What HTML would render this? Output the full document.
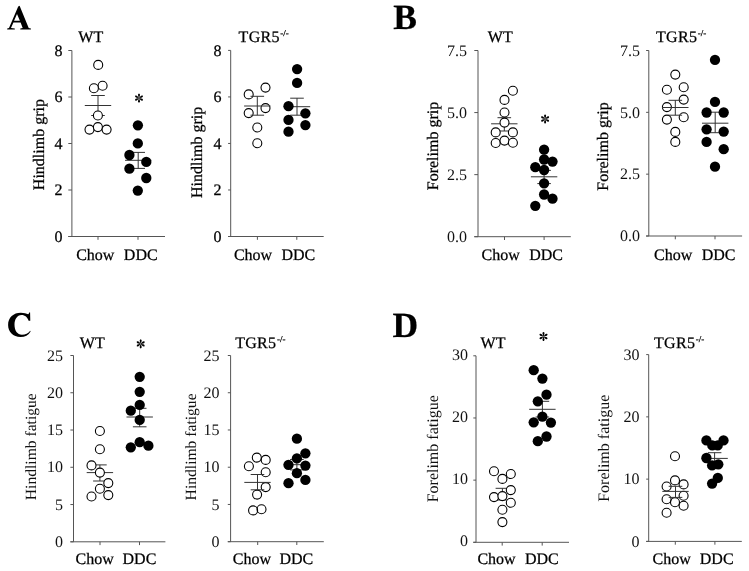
<!DOCTYPE html>
<html><head><meta charset="utf-8"><style>
html,body{margin:0;padding:0;background:#fff;}
body{width:749px;height:571px;overflow:hidden;}
svg{display:block;will-change:transform;filter:blur(0.3px);}
text{font-family:"Liberation Serif",serif;fill:#000;stroke:#000;stroke-width:0.25px;text-rendering:geometricPrecision;}
text.lt{stroke:none;fill:#111;}
</style></head><body>
<svg width="749" height="571" viewBox="0 0 749 571">
<rect width="749" height="571" fill="#fff"/>
<g><path d="M71.9 50.5V236.5M68.3 236.5H165M68.3 236.5H71.9M68.3 190H71.9M68.3 143.5H71.9M68.3 97H71.9M68.3 50.5H71.9M98 236.5V239.8M138 236.5V239.8" stroke="#555" stroke-width="1.0" fill="none"/><text x="62.5" y="241.7" font-size="16" text-anchor="end">0</text><text x="62.5" y="195.2" font-size="16" text-anchor="end">2</text><text x="62.5" y="148.7" font-size="16" text-anchor="end">4</text><text x="62.5" y="102.2" font-size="16" text-anchor="end">6</text><text x="62.5" y="55.7" font-size="16" text-anchor="end">8</text><text x="95.25" y="259.5" font-size="16" text-anchor="middle">Chow</text><text x="140.75" y="259.5" font-size="16" text-anchor="middle">DDC</text><text x="78.3" y="42.2" font-size="16">WT</text><text transform="translate(43.6,144.6) rotate(-90)" x="0" y="0" font-size="16" text-anchor="middle">Hindlimb grip</text><g transform="translate(139,98.1)"><path d="M0.3 -0.2L2.3 -0.85A1.45 1 0 1 1 2.3 0.85L0.3 0.2Z" transform="rotate(-90)"/><path d="M0.3 -0.2L2.3 -0.85A1.45 1 0 1 1 2.3 0.85L0.3 0.2Z" transform="rotate(-30)"/><path d="M0.3 -0.2L2.3 -0.85A1.45 1 0 1 1 2.3 0.85L0.3 0.2Z" transform="rotate(30)"/><path d="M0.3 -0.2L2.3 -0.85A1.45 1 0 1 1 2.3 0.85L0.3 0.2Z" transform="rotate(90)"/><path d="M0.3 -0.2L2.3 -0.85A1.45 1 0 1 1 2.3 0.85L0.3 0.2Z" transform="rotate(150)"/><path d="M0.3 -0.2L2.3 -0.85A1.45 1 0 1 1 2.3 0.85L0.3 0.2Z" transform="rotate(210)"/></g><path d="M84.8 105.5H111.2M91.2 95.5H104.8M91.2 115.5H104.8M98 95.5V115.5" stroke="#333" stroke-width="1.0" fill="none"/><g fill="#fff" stroke="#000" stroke-width="1.1"><circle cx="98.2" cy="64.9" r="4.5"/><circle cx="102.6" cy="85.8" r="4.5"/><circle cx="93.9" cy="88.3" r="4.5"/><circle cx="97.9" cy="115.5" r="4.5"/><circle cx="89.5" cy="129.6" r="4.5"/><circle cx="97.9" cy="127.1" r="4.5"/><circle cx="106.6" cy="129.6" r="4.5"/></g><path d="M125 160.3H151.4M131.4 152.4H145M131.4 168.4H145M138.2 152.4V168.4" stroke="#333" stroke-width="1.0" fill="none"/><g fill="#000"><circle cx="137.9" cy="125.3" r="5.15"/><circle cx="137.8" cy="143.4" r="5.15"/><circle cx="129.4" cy="155" r="5.15"/><circle cx="146.3" cy="161.9" r="5.15"/><circle cx="129.4" cy="168.7" r="5.15"/><circle cx="146.3" cy="178" r="5.15"/><circle cx="137.8" cy="190.6" r="5.15"/></g></g>
<g><path d="M230.7 50.4V236.5M228.1 236.5H323.7M228.1 236.5H230.7M228.1 189.97H230.7M228.1 143.45H230.7M228.1 96.93H230.7M228.1 50.4H230.7M257.4 236.5V239.8M296.8 236.5V239.8" stroke="#555" stroke-width="1.0" fill="none"/><text x="221.5" y="241.7" font-size="16" text-anchor="end">0</text><text x="221.5" y="195.17" font-size="16" text-anchor="end">2</text><text x="221.5" y="148.65" font-size="16" text-anchor="end">4</text><text x="221.5" y="102.13" font-size="16" text-anchor="end">6</text><text x="221.5" y="55.6" font-size="16" text-anchor="end">8</text><text x="253.05" y="259.5" font-size="16" text-anchor="middle">Chow</text><text x="298.4" y="259.5" font-size="16" text-anchor="middle">DDC</text><text x="238.6" y="42.1" font-size="16" letter-spacing="0.3">TGR5<tspan font-size="9" dx="0.5" dy="-6.1" letter-spacing="0">-/-</tspan></text><text transform="translate(202.4,152.4) rotate(-90)" x="0" y="0" font-size="16" text-anchor="middle">Hindlimb grip</text><g fill="none" stroke="#000" stroke-width="1.1"><circle cx="265.5" cy="87.6" r="4.5"/><circle cx="248.7" cy="94.4" r="4.5"/><circle cx="265.5" cy="108.1" r="4.5"/><circle cx="248.7" cy="113.1" r="4.5"/><circle cx="257.3" cy="127.5" r="4.5"/><circle cx="257.3" cy="143.2" r="4.5"/></g><path d="M244.1 106H270.5M250.5 96.3H264.1M250.5 115.2H264.1M257.3 96.3V115.2" stroke="#333" stroke-width="1.0" fill="none"/><path d="M283.8 106.7H310.2M290.2 98.2H303.8M290.2 115.2H303.8M297 98.2V115.2" stroke="#333" stroke-width="1.0" fill="none"/><g fill="#000"><circle cx="297.1" cy="69.1" r="5.15"/><circle cx="297.1" cy="82.9" r="5.15"/><circle cx="288.5" cy="106.2" r="5.15"/><circle cx="305.4" cy="113.3" r="5.15"/><circle cx="288.5" cy="119.9" r="5.15"/><circle cx="305.4" cy="125.1" r="5.15"/><circle cx="288.5" cy="131.7" r="5.15"/></g></g>
<g><path d="M478 50.5V236.7M474.3 236.7H570.8M474.3 236.7H478M474.3 174.63H478M474.3 112.57H478M474.3 50.5H478M504.5 236.7V240M544.1 236.7V240" stroke="#555" stroke-width="1.0" fill="none"/><text class="lt" x="467" y="241.9" font-size="16" text-anchor="end">0.0</text><text class="lt" x="467" y="179.83" font-size="16" text-anchor="end">2.5</text><text class="lt" x="467" y="117.77" font-size="16" text-anchor="end">5.0</text><text class="lt" x="467" y="55.7" font-size="16" text-anchor="end">7.5</text><text x="500.7" y="259.5" font-size="16" text-anchor="middle">Chow</text><text x="546.1" y="259.5" font-size="16" text-anchor="middle">DDC</text><text x="487.8" y="42.2" font-size="16">WT</text><text transform="translate(438.4,146) rotate(-90)" x="0" y="0" font-size="16" text-anchor="middle">Forelimb grip</text><g transform="translate(545.1,119)"><path d="M0.3 -0.2L2.3 -0.85A1.45 1 0 1 1 2.3 0.85L0.3 0.2Z" transform="rotate(-90)"/><path d="M0.3 -0.2L2.3 -0.85A1.45 1 0 1 1 2.3 0.85L0.3 0.2Z" transform="rotate(-30)"/><path d="M0.3 -0.2L2.3 -0.85A1.45 1 0 1 1 2.3 0.85L0.3 0.2Z" transform="rotate(30)"/><path d="M0.3 -0.2L2.3 -0.85A1.45 1 0 1 1 2.3 0.85L0.3 0.2Z" transform="rotate(90)"/><path d="M0.3 -0.2L2.3 -0.85A1.45 1 0 1 1 2.3 0.85L0.3 0.2Z" transform="rotate(150)"/><path d="M0.3 -0.2L2.3 -0.85A1.45 1 0 1 1 2.3 0.85L0.3 0.2Z" transform="rotate(210)"/></g><path d="M491.1 123.8H517.5M497.5 117.7H511.1M497.5 131H511.1M504.3 117.7V131" stroke="#333" stroke-width="1.0" fill="none"/><g fill="#fff" stroke="#000" stroke-width="1.1"><circle cx="512.9" cy="90.7" r="4.5"/><circle cx="504.5" cy="99.9" r="4.5"/><circle cx="504.5" cy="112.5" r="4.5"/><circle cx="504.5" cy="122.6" r="4.5"/><circle cx="495.7" cy="132.4" r="4.5"/><circle cx="512.9" cy="132.4" r="4.5"/><circle cx="495.7" cy="143" r="4.5"/><circle cx="504.5" cy="140.6" r="4.5"/><circle cx="512.9" cy="142.7" r="4.5"/></g><path d="M530.9 176.8H557.3M537.3 170.4H550.9M537.3 183.6H550.9M544.1 170.4V183.6" stroke="#333" stroke-width="1.0" fill="none"/><g fill="#000"><circle cx="544.1" cy="149.7" r="5.15"/><circle cx="544.1" cy="159.5" r="5.15"/><circle cx="552.5" cy="161.6" r="5.15"/><circle cx="535.3" cy="167.2" r="5.15"/><circle cx="544.1" cy="170" r="5.15"/><circle cx="544.1" cy="183.3" r="5.15"/><circle cx="544.1" cy="194.5" r="5.15"/><circle cx="552.5" cy="198.7" r="5.15"/><circle cx="535.3" cy="205.8" r="5.15"/></g></g>
<g><path d="M648.8 50.5V236M646.1 236H742.1M646.1 236H648.8M646.1 174.17H648.8M646.1 112.33H648.8M646.1 50.5H648.8M675.3 236V239.3M715 236V239.3" stroke="#555" stroke-width="1.0" fill="none"/><text class="lt" x="640" y="241.2" font-size="16" text-anchor="end">0.0</text><text class="lt" x="640" y="179.37" font-size="16" text-anchor="end">2.5</text><text class="lt" x="640" y="117.53" font-size="16" text-anchor="end">5.0</text><text class="lt" x="640" y="55.7" font-size="16" text-anchor="end">7.5</text><text x="673.1" y="259.5" font-size="16" text-anchor="middle">Chow</text><text x="718.55" y="259.5" font-size="16" text-anchor="middle">DDC</text><text x="656" y="42.3" font-size="16" letter-spacing="0.3">TGR5<tspan font-size="9" dx="0.5" dy="-6.1" letter-spacing="0">-/-</tspan></text><text transform="translate(608.4,146.5) rotate(-90)" x="0" y="0" font-size="16" text-anchor="middle">Forelimb grip</text><g fill="none" stroke="#000" stroke-width="1.1"><circle cx="675.3" cy="74.6" r="4.5"/><circle cx="666.9" cy="89.7" r="4.5"/><circle cx="683.7" cy="87.2" r="4.5"/><circle cx="683.7" cy="99.6" r="4.5"/><circle cx="666.9" cy="107.1" r="4.5"/><circle cx="666.9" cy="119.6" r="4.5"/><circle cx="683.7" cy="117.2" r="4.5"/><circle cx="675.3" cy="131.9" r="4.5"/><circle cx="675.3" cy="141.9" r="4.5"/></g><path d="M662.1 107.5H688.5M668.5 100.3H682.1M668.5 115.2H682.1M675.3 100.3V115.2" stroke="#333" stroke-width="1.0" fill="none"/><path d="M702 123.2H728.4M708.4 112.2H722M708.4 132.7H722M715.2 112.2V132.7" stroke="#333" stroke-width="1.0" fill="none"/><g fill="#000"><circle cx="715" cy="59.9" r="5.15"/><circle cx="715" cy="101.9" r="5.15"/><circle cx="706.6" cy="112.5" r="5.15"/><circle cx="723.7" cy="112.5" r="5.15"/><circle cx="706.6" cy="129.3" r="5.15"/><circle cx="723.7" cy="131.6" r="5.15"/><circle cx="706.6" cy="141.9" r="5.15"/><circle cx="723.7" cy="149.2" r="5.15"/><circle cx="715" cy="166.7" r="5.15"/></g></g>
<g><path d="M73.5 355.5V541.8M70.4 541.8H165.4M70.4 541.8H73.5M70.4 504.54H73.5M70.4 467.28H73.5M70.4 430.02H73.5M70.4 392.76H73.5M70.4 355.5H73.5M100 541.8V545.1M139.5 541.8V545.1" stroke="#555" stroke-width="1.0" fill="none"/><text class="lt" x="63" y="547" font-size="16" text-anchor="end">0</text><text class="lt" x="63" y="509.74" font-size="16" text-anchor="end">5</text><text class="lt" x="63" y="472.48" font-size="16" text-anchor="end">10</text><text class="lt" x="63" y="435.22" font-size="16" text-anchor="end">15</text><text class="lt" x="63" y="397.96" font-size="16" text-anchor="end">20</text><text class="lt" x="63" y="360.7" font-size="16" text-anchor="end">25</text><text x="94.7" y="564" font-size="16" text-anchor="middle">Chow</text><text x="139.45" y="564" font-size="16" text-anchor="middle">DDC</text><text x="79.8" y="348.3" font-size="16">WT</text><text class="lt" transform="translate(35.6,446.7) rotate(-90)" x="0" y="0" font-size="15.6" text-anchor="middle">Hindlimb fatigue</text><g transform="translate(140.7,343.9)"><path d="M0.3 -0.2L2.3 -0.85A1.45 1 0 1 1 2.3 0.85L0.3 0.2Z" transform="rotate(-90)"/><path d="M0.3 -0.2L2.3 -0.85A1.45 1 0 1 1 2.3 0.85L0.3 0.2Z" transform="rotate(-30)"/><path d="M0.3 -0.2L2.3 -0.85A1.45 1 0 1 1 2.3 0.85L0.3 0.2Z" transform="rotate(30)"/><path d="M0.3 -0.2L2.3 -0.85A1.45 1 0 1 1 2.3 0.85L0.3 0.2Z" transform="rotate(90)"/><path d="M0.3 -0.2L2.3 -0.85A1.45 1 0 1 1 2.3 0.85L0.3 0.2Z" transform="rotate(150)"/><path d="M0.3 -0.2L2.3 -0.85A1.45 1 0 1 1 2.3 0.85L0.3 0.2Z" transform="rotate(210)"/></g><path d="M86.7 472.6H113.1M93.1 464.9H106.7M93.1 481H106.7M99.9 464.9V481" stroke="#333" stroke-width="1.0" fill="none"/><g fill="#fff" stroke="#000" stroke-width="1.1"><circle cx="99.9" cy="431" r="4.5"/><circle cx="99.9" cy="449.2" r="4.5"/><circle cx="91.5" cy="465.4" r="4.5"/><circle cx="99.9" cy="472.6" r="4.5"/><circle cx="108.3" cy="483.1" r="4.5"/><circle cx="99.9" cy="488.7" r="4.5"/><circle cx="91.5" cy="496.5" r="4.5"/><circle cx="108.3" cy="495.1" r="4.5"/></g><path d="M126.5 417H152.9M132.9 408.3H146.5M132.9 426.8H146.5M139.7 408.3V426.8" stroke="#333" stroke-width="1.0" fill="none"/><g fill="#000"><circle cx="139.7" cy="376.8" r="5.15"/><circle cx="139.7" cy="391.8" r="5.15"/><circle cx="139.7" cy="404.9" r="5.15"/><circle cx="130.8" cy="410.7" r="5.15"/><circle cx="139.7" cy="419.9" r="5.15"/><circle cx="139.7" cy="442.2" r="5.15"/><circle cx="130.8" cy="447.3" r="5.15"/><circle cx="148.4" cy="445.7" r="5.15"/></g></g>
<g><path d="M230.6 355.5V541.7M227.8 541.7H323.8M227.8 541.7H230.6M227.8 504.46H230.6M227.8 467.22H230.6M227.8 429.98H230.6M227.8 392.74H230.6M227.8 355.5H230.6M257.7 541.7V545M296.8 541.7V545" stroke="#555" stroke-width="1.0" fill="none"/><text class="lt" x="219.5" y="546.9" font-size="16" text-anchor="end">0</text><text class="lt" x="219.5" y="509.66" font-size="16" text-anchor="end">5</text><text class="lt" x="219.5" y="472.42" font-size="16" text-anchor="end">10</text><text class="lt" x="219.5" y="435.18" font-size="16" text-anchor="end">15</text><text class="lt" x="219.5" y="397.94" font-size="16" text-anchor="end">20</text><text class="lt" x="219.5" y="360.7" font-size="16" text-anchor="end">25</text><text x="251.85" y="564" font-size="16" text-anchor="middle">Chow</text><text x="296.4" y="564" font-size="16" text-anchor="middle">DDC</text><text x="235.2" y="347.7" font-size="16" letter-spacing="0.3">TGR5<tspan font-size="9" dx="0.5" dy="-6.1" letter-spacing="0">-/-</tspan></text><text class="lt" transform="translate(195.8,446.9) rotate(-90)" x="0" y="0" font-size="15.6" text-anchor="middle">Hindlimb fatigue</text><g fill="none" stroke="#000" stroke-width="1.1"><circle cx="256.8" cy="457.6" r="4.5"/><circle cx="265.7" cy="459.9" r="4.5"/><circle cx="248.9" cy="466.3" r="4.5"/><circle cx="265.7" cy="472.2" r="4.5"/><circle cx="265.7" cy="487.1" r="4.5"/><circle cx="257.1" cy="494.6" r="4.5"/><circle cx="253.1" cy="510.4" r="4.5"/><circle cx="261.5" cy="509.3" r="4.5"/></g><path d="M244.3 482.4H270.7M250.7 474.5H264.3M250.7 489.8H264.3M257.5 474.5V489.8" stroke="#333" stroke-width="1.0" fill="none"/><path d="M283.7 464.7H310.1M290.1 459.5H303.7M290.1 469.9H303.7M296.9 459.5V469.9" stroke="#333" stroke-width="1.0" fill="none"/><g fill="#000"><circle cx="296.9" cy="438.7" r="5.15"/><circle cx="305.4" cy="453.3" r="5.15"/><circle cx="296.9" cy="458.4" r="5.15"/><circle cx="288.5" cy="464.9" r="5.15"/><circle cx="305.4" cy="465.6" r="5.15"/><circle cx="296.9" cy="473.2" r="5.15"/><circle cx="305.4" cy="479.9" r="5.15"/><circle cx="288.5" cy="483.2" r="5.15"/></g></g>
<g><path d="M476 355.8V542.3M473.3 542.3H569M473.3 542.3H476M473.3 480.13H476M473.3 417.97H476M473.3 355.8H476M502.2 542.3V545.6M542.2 542.3V545.6" stroke="#555" stroke-width="1.0" fill="none"/><text class="lt" x="468" y="546.2" font-size="16" text-anchor="end">0</text><text class="lt" x="468" y="484.03" font-size="16" text-anchor="end">10</text><text class="lt" x="468" y="421.87" font-size="16" text-anchor="end">20</text><text class="lt" x="468" y="359.7" font-size="16" text-anchor="end">30</text><text x="496.55" y="564" font-size="16" text-anchor="middle">Chow</text><text x="541.85" y="564" font-size="16" text-anchor="middle">DDC</text><text x="480.6" y="348" font-size="16">WT</text><text class="lt" transform="translate(438.4,448.8) rotate(-90)" x="0" y="0" font-size="16" text-anchor="middle">Forelimb fatigue</text><g transform="translate(543.5,336.5)"><path d="M0.3 -0.2L2.3 -0.85A1.45 1 0 1 1 2.3 0.85L0.3 0.2Z" transform="rotate(-90)"/><path d="M0.3 -0.2L2.3 -0.85A1.45 1 0 1 1 2.3 0.85L0.3 0.2Z" transform="rotate(-30)"/><path d="M0.3 -0.2L2.3 -0.85A1.45 1 0 1 1 2.3 0.85L0.3 0.2Z" transform="rotate(30)"/><path d="M0.3 -0.2L2.3 -0.85A1.45 1 0 1 1 2.3 0.85L0.3 0.2Z" transform="rotate(90)"/><path d="M0.3 -0.2L2.3 -0.85A1.45 1 0 1 1 2.3 0.85L0.3 0.2Z" transform="rotate(150)"/><path d="M0.3 -0.2L2.3 -0.85A1.45 1 0 1 1 2.3 0.85L0.3 0.2Z" transform="rotate(210)"/></g><path d="M495.6 488.3H509.2M495.6 500H509.2M502.4 488.3V500" stroke="#333" stroke-width="1.0" fill="none"/><g fill="#fff" stroke="#000" stroke-width="1.1"><circle cx="494" cy="471.2" r="4.5"/><circle cx="510.8" cy="474" r="4.5"/><circle cx="502.4" cy="478.9" r="4.5"/><circle cx="510.8" cy="490.1" r="4.5"/><circle cx="494" cy="497.1" r="4.5"/><circle cx="502.4" cy="496.1" r="4.5"/><circle cx="510.8" cy="502.7" r="4.5"/><circle cx="502.4" cy="509.7" r="4.5"/><circle cx="502.4" cy="522.1" r="4.5"/></g><path d="M529.2 409.3H555.6M535.6 401.3H549.2M535.6 417H549.2M542.4 401.3V417" stroke="#333" stroke-width="1.0" fill="none"/><g fill="#000"><circle cx="533.7" cy="370.2" r="5.15"/><circle cx="542.4" cy="378.6" r="5.15"/><circle cx="546.5" cy="394.7" r="5.15"/><circle cx="537.8" cy="401.3" r="5.15"/><circle cx="542.4" cy="416.7" r="5.15"/><circle cx="533.7" cy="422.3" r="5.15"/><circle cx="550.9" cy="422.6" r="5.15"/><circle cx="546.5" cy="436.5" r="5.15"/><circle cx="537.8" cy="441.2" r="5.15"/></g></g>
<g><path d="M648.7 354.6V541.4M646.2 541.4H741.8M646.2 541.4H648.7M646.2 479.13H648.7M646.2 416.87H648.7M646.2 354.6H648.7M675.3 541.4V544.7M714.9 541.4V544.7" stroke="#555" stroke-width="1.0" fill="none"/><text class="lt" x="639.5" y="546.6" font-size="16" text-anchor="end">0</text><text class="lt" x="639.5" y="484.33" font-size="16" text-anchor="end">10</text><text class="lt" x="639.5" y="422.07" font-size="16" text-anchor="end">20</text><text class="lt" x="639.5" y="359.8" font-size="16" text-anchor="end">30</text><text x="671.65" y="564" font-size="16" text-anchor="middle">Chow</text><text x="716.7" y="564" font-size="16" text-anchor="middle">DDC</text><text x="654" y="348" font-size="16" letter-spacing="0.3">TGR5<tspan font-size="9" dx="0.5" dy="-6.1" letter-spacing="0">-/-</tspan></text><text class="lt" transform="translate(609.2,448.3) rotate(-90)" x="0" y="0" font-size="16" text-anchor="middle">Forelimb fatigue</text><g fill="none" stroke="#000" stroke-width="1.1"><circle cx="675" cy="456.3" r="4.5"/><circle cx="675" cy="480.4" r="4.5"/><circle cx="666.6" cy="486.5" r="4.5"/><circle cx="683.6" cy="484.4" r="4.5"/><circle cx="683.6" cy="495.7" r="4.5"/><circle cx="666.6" cy="499.2" r="4.5"/><circle cx="675" cy="502.3" r="4.5"/><circle cx="683.6" cy="505.8" r="4.5"/><circle cx="666.6" cy="512.8" r="4.5"/></g><path d="M662.3 491.4H688.7M668.7 486.3H682.3M668.7 497.4H682.3M675.5 486.3V497.4" stroke="#333" stroke-width="1.0" fill="none"/><path d="M701.4 458.4H727.8M707.8 452.7H721.4M707.8 464H721.4M714.6 452.7V464" stroke="#333" stroke-width="1.0" fill="none"/><g fill="#000"><circle cx="706.4" cy="440.4" r="5.15"/><circle cx="723.5" cy="440.4" r="5.15"/><circle cx="712.3" cy="445.4" r="5.15"/><circle cx="717.7" cy="445.4" r="5.15"/><circle cx="706.4" cy="458" r="5.15"/><circle cx="712.1" cy="465.4" r="5.15"/><circle cx="718.3" cy="464.3" r="5.15"/><circle cx="717.8" cy="477.9" r="5.15"/><circle cx="712.1" cy="483.6" r="5.15"/></g></g>
<path fill="#000" fill-rule="evenodd" d="M18.2 6.4L19.6 5.8L28.7 27.9L30.9 28.5L30.9 29.5L20.3 29.5L20.3 28.5L22.7 28L20.6 22.4L13.4 22.4L11 27.9L14.8 28.5L14.8 29.5L7.2 29.5L7.2 28.5L9 27.9ZM17 13.9L19.9 20.7L14.05 20.7Z"/>
<text x="405.1" y="29.3" font-size="35.5" font-weight="bold" text-anchor="middle">B</text>
<path fill="#000" d="M29.1 312.6L30.1 312.6L30.3 320.8L28.6 320.8C27.6 317.3 25 315 21.5 315C17 315 14.5 319.5 14.5 324.8C14.5 330.5 17.3 334.8 22 334.8C25.5 334.8 28.3 333.2 30.2 330.8L30.6 331.4C28.5 335 25 337 20.5 337C13 337 8.1 331.8 8.1 325C8.1 317.6 13.5 312.8 20.8 312.8C24 312.8 26.4 313.8 28.1 314.3C28.6 314.4 28.9 313.5 29.1 312.6Z"/>
<text x="405.3" y="336.5" font-size="35.5" font-weight="bold" text-anchor="middle">D</text>
</svg>
</body></html>
